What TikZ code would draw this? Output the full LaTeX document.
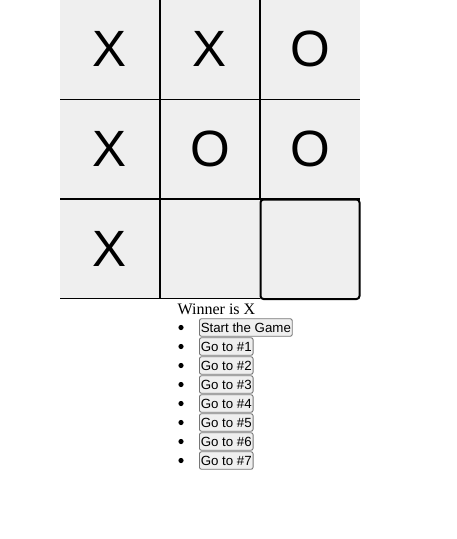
\documentclass[tikz,border=0pt]{standalone}
\usepackage{fontspec}
\setmainfont{Liberation Serif}
\newfontfamily\boardfont{Liberation Sans}
\definecolor{cellgray}{HTML}{EFEFEF}
\definecolor{btnborder}{HTML}{767676}
\tikzset{
    squaremark/.style={font=\boardfont\fontsize{51}{51}\selectfont, inner sep=0pt},
    histbtn/.style={draw=btnborder, fill=cellgray, rounded corners=2pt, line width=0.9pt,
        font=\boardfont\fontsize{13.3}{15}\selectfont, anchor=west,
        inner xsep=1.3pt, inner ysep=0pt, minimum height=17.5pt},
}
\begin{document}
\begin{tikzpicture}[x=1pt, y=-1pt]
        \useasboundingbox (0,0) rectangle (457,539);

        % Board background
        \fill[cellgray] (60,0) rectangle (360,299);
        % Grid lines
        \draw[line width=1.6pt] (160,0) -- (160,299);
        \draw[line width=1.6pt] (260,0) -- (260,199);
        \draw[line width=1.6pt] (60,99.5) -- (360,99.5);
        \draw[line width=1.6pt] (60,199) -- (360,199);
        \draw[line width=1.6pt] (60,298.5) -- (260,298.5);
        % Focused square
        \draw[line width=2pt, rounded corners=3pt] (260.5,199.5) rectangle (359.5,299);

        % Marks
        \node[squaremark] (s1) at (110,48.5) {X};
        \node[squaremark] (s2) at (210,48.5) {X};
        \node[squaremark] (s3) at (310,48.5) {O};
        \node[squaremark] (s4) at (110,148.5) {X};
        \node[squaremark] (s5) at (210,148.5) {O};
        \node[squaremark] (s6) at (310,148.5) {O};
        \node[squaremark] (s7) at (110,248.5) {X};

        % Status
        \node[anchor=base west, inner sep=0pt, font=\fontsize{16}{18}\selectfont] (status) at (177.5,314) {Winner is X};

        % Move list
        \fill (181,327.5) circle (2.6);
        \node[histbtn] (move0) at (199,327.5) {Start the Game};
        \foreach \i in {1,...,7} {
            \fill (181,{327.5+19*\i}) circle (2.6);
            \node[histbtn] (move\i) at (199,{327.5+19*\i}) {Go to \#\i};
        }
\end{tikzpicture}
\end{document}
